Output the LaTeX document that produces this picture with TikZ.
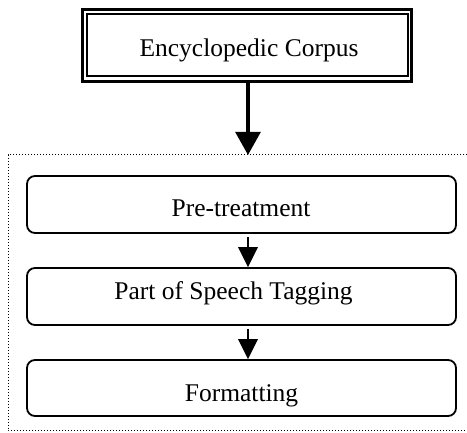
\documentclass[tikz,border=0pt]{standalone}
\usepackage{fontspec}
\setmainfont{Liberation Serif}
\usetikzlibrary{arrows.meta}
\begin{document}
\begin{tikzpicture}[x=1pt,y=-1pt,
  txt/.style={anchor=base,inner sep=0pt,font=\fontsize{25.5}{30}\selectfont},
  corpusbox/.style={draw,line width=3pt,minimum width=329pt,minimum height=72pt,inner sep=0pt,outer sep=0pt},
  innerframe/.style={line width=2pt},
  stagebox/.style={draw,line width=1.8pt,rounded corners=8pt,minimum width=429pt,inner sep=0pt},
  bigarrow/.style={line width=3.6pt,-{Triangle[width=24.7pt,length=23pt]}},
  smallarrow/.style={line width=2.4pt,-{Triangle[width=19.5pt,length=20pt]}},
  groupline/.style={line width=1pt,dash pattern=on 1pt off 2pt}
]
\useasboundingbox (0,0) rectangle (467,433);
% group (dotted) frame
\draw[groupline] (470,155) -- (8,155) -- (8,431) -- (470,431);
\coordinate (grp) at (248,155);
% top box with double frame
\node[corpusbox] (corpus) at (247,45.5) {};
\draw[innerframe] ([shift={(4.5,4.5)}]corpus.north west) rectangle ([shift={(-3.7,-5.5)}]corpus.south east);
\node[txt] (tcorpus) at (249,57) {Encyclopedic Corpus};
% stage boxes
\node[stagebox,minimum height=57pt] (pre) at (241.5,204.5) {};
\node[stagebox,minimum height=57pt] (pos) at (241.5,296.5) {};
\node[stagebox,minimum height=56pt] (fmt) at (241.5,388) {};
\node[txt] (tpre) at (241,217) {Pre-treatment};
\node[txt] (tpos) at (233.5,300) {Part of Speech Tagging};
\node[txt] (tfmt) at (241.5,401.7) {Formatting};
% connectors
\draw[bigarrow] (corpus.south -| grp) -- (grp);
\draw[smallarrow] ([yshift=-3pt]pre.south -| grp) -- (pos.north -| grp);
\draw[smallarrow] ([yshift=-3pt]pos.south -| grp) -- (fmt.north -| grp);
\end{tikzpicture}
\end{document}
